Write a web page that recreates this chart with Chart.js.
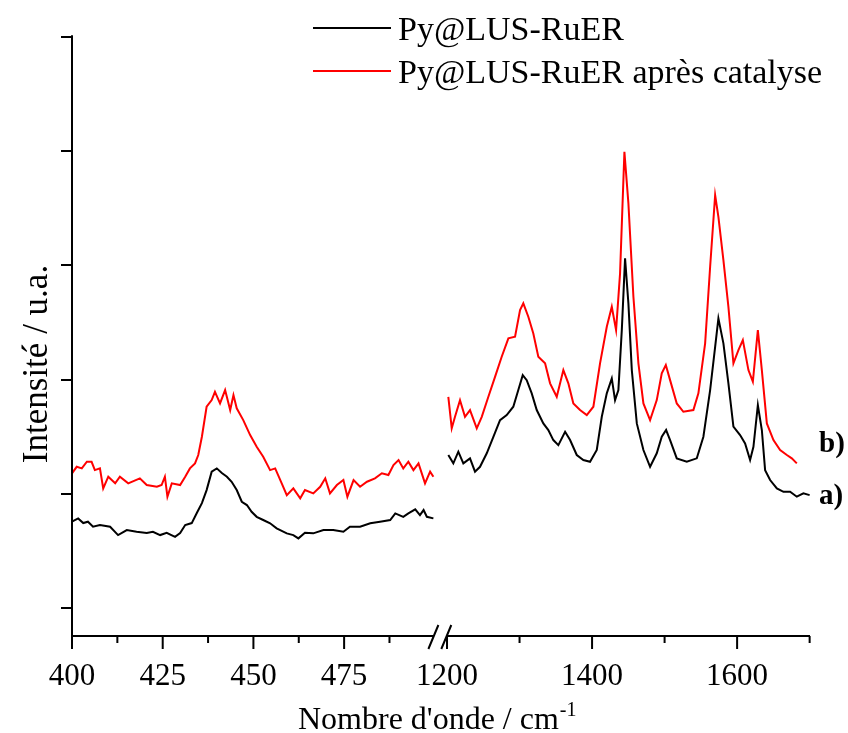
<!DOCTYPE html>
<html>
<head>
<meta charset="utf-8">
<script src="https://cdn.jsdelivr.net/npm/chart.js@4.4.1/dist/chart.umd.min.js"></script>
<style>
  body { margin: 0; background: #fff; }
  #wrap { width: 848px; height: 733px; }
</style>
</head>
<body>
<div id="wrap"><canvas id="raman" width="848" height="733"></canvas></div>
<script>
// a) Py@LUS-RuER, low wavenumber part
const wnLeftA = [400, 401.7, 403.1, 404.4, 405.8, 407.7, 410.5, 412.7, 415.1, 417.8, 420.6, 422.3, 424.3, 426.1, 428.4, 429.8, 431.2, 433.0, 434.4, 435.8, 437.1, 438.5, 439.9, 441.3, 442.7, 444.0, 445.4, 446.8, 448.2, 449.5, 450.9, 452.7, 454.6, 456.4, 459.2, 461.0, 462.4, 464.2, 466.5, 469.3, 472.0, 474.8, 476.6, 479.4, 482.2, 484.9, 487.7, 489.1, 491.3, 492.7, 494.6, 495.9, 496.9, 497.8, 499.6];
const intLeftA = [0.756, 0.785, 0.744, 0.756, 0.712, 0.727, 0.712, 0.639, 0.683, 0.668, 0.657, 0.668, 0.639, 0.659, 0.624, 0.657, 0.727, 0.744, 0.832, 0.919, 1.033, 1.194, 1.223, 1.182, 1.150, 1.106, 1.033, 0.931, 0.902, 0.843, 0.799, 0.771, 0.742, 0.698, 0.654, 0.639, 0.610, 0.659, 0.654, 0.683, 0.683, 0.668, 0.712, 0.712, 0.742, 0.756, 0.771, 0.829, 0.799, 0.829, 0.864, 0.814, 0.858, 0.799, 0.785];

// b) après catalyse, low wavenumber part
const wnLeftB = [400, 401.3, 402.7, 404.1, 405.4, 406.3, 407.7, 408.6, 410.0, 411.9, 413.2, 415.5, 418.7, 420.6, 423.4, 424.7, 425.6, 426.3, 427.5, 429.8, 431.2, 432.5, 433.9, 434.8, 435.8, 437.1, 438.5, 439.4, 440.8, 442.2, 443.6, 444.5, 445.4, 447.2, 449.1, 450.9, 452.7, 454.6, 456.0, 457.8, 459.2, 461.0, 462.9, 464.2, 466.5, 468.4, 469.8, 471.1, 473.0, 474.8, 475.9, 477.6, 479.4, 481.3, 483.5, 485.4, 487.2, 488.6, 490.0, 491.3, 492.7, 494.1, 495.5, 497.3, 498.7, 499.6];
const intLeftB = [1.180, 1.237, 1.223, 1.281, 1.281, 1.208, 1.223, 1.048, 1.150, 1.092, 1.150, 1.092, 1.136, 1.077, 1.062, 1.077, 1.150, 0.975, 1.092, 1.077, 1.150, 1.223, 1.267, 1.340, 1.500, 1.763, 1.821, 1.894, 1.792, 1.909, 1.734, 1.865, 1.749, 1.646, 1.515, 1.413, 1.325, 1.208, 1.223, 1.092, 0.989, 1.048, 0.961, 1.033, 1.004, 1.062, 1.136, 1.004, 1.077, 1.121, 0.975, 1.121, 1.062, 1.106, 1.136, 1.180, 1.165, 1.252, 1.296, 1.223, 1.281, 1.208, 1.267, 1.092, 1.194, 1.150];

// a) high wavenumber part
const wnRightA = [1201.8, 1208.7, 1215.6, 1222.5, 1231.7, 1238.6, 1245.5, 1254.8, 1263.9, 1273.1, 1282.3, 1291.4, 1298.3, 1304.4, 1309.9, 1316.8, 1323.7, 1332.8, 1339.7, 1346.6, 1353.5, 1362.8, 1369.7, 1378.9, 1388.0, 1397.2, 1406.5, 1413.4, 1420.3, 1427.2, 1431.7, 1436.3, 1441.0, 1445.5, 1450.1, 1454.8, 1461.7, 1470.8, 1480.0, 1489.2, 1496.1, 1502.1, 1507.6, 1516.8, 1530.6, 1544.4, 1553.5, 1562.8, 1569.7, 1574.2, 1581.1, 1588.0, 1594.9, 1604.1, 1611.0, 1617.9, 1622.5, 1628.6, 1634.1, 1638.6, 1645.5, 1654.8, 1663.9, 1673.1, 1682.3, 1691.4, 1700];
const intRightA = [1.340, 1.267, 1.369, 1.267, 1.311, 1.194, 1.237, 1.355, 1.500, 1.646, 1.690, 1.763, 1.909, 2.040, 1.996, 1.880, 1.734, 1.617, 1.559, 1.471, 1.427, 1.544, 1.471, 1.340, 1.296, 1.281, 1.384, 1.675, 1.880, 2.011, 1.821, 1.909, 2.434, 3.062, 2.668, 2.084, 1.617, 1.384, 1.237, 1.355, 1.500, 1.559, 1.471, 1.311, 1.281, 1.311, 1.500, 1.909, 2.288, 2.537, 2.318, 1.968, 1.588, 1.515, 1.442, 1.296, 1.412, 1.778, 1.559, 1.208, 1.121, 1.048, 1.018, 1.018, 0.975, 1.004, 0.989];

// b) high wavenumber part
const wnRightB = [1201.8, 1206.5, 1211.0, 1217.9, 1224.8, 1231.7, 1241.0, 1247.9, 1257.0, 1266.2, 1275.4, 1284.6, 1293.8, 1300.7, 1305.2, 1312.1, 1319.0, 1325.9, 1335.2, 1342.1, 1351.3, 1360.4, 1367.3, 1374.2, 1383.4, 1392.7, 1401.8, 1411.0, 1420.3, 1427.2, 1433.1, 1438.6, 1444.6, 1450.1, 1457.0, 1463.9, 1470.8, 1480.0, 1489.2, 1496.1, 1501.7, 1507.6, 1516.8, 1525.9, 1539.7, 1546.6, 1555.9, 1562.8, 1569.7, 1574.2, 1581.1, 1588.0, 1594.9, 1601.8, 1607.9, 1615.6, 1621.7, 1628.6, 1634.1, 1641.0, 1650.1, 1659.3, 1668.6, 1675.4, 1682.3];
const intRightB = [1.850, 1.574, 1.675, 1.821, 1.675, 1.734, 1.574, 1.675, 1.850, 2.025, 2.201, 2.362, 2.376, 2.609, 2.668, 2.551, 2.405, 2.201, 2.143, 1.968, 1.850, 2.084, 1.968, 1.792, 1.734, 1.690, 1.763, 2.143, 2.463, 2.638, 2.434, 2.931, 3.996, 3.544, 2.726, 2.143, 1.792, 1.646, 1.821, 2.055, 2.128, 1.996, 1.792, 1.719, 1.734, 1.880, 2.318, 2.989, 3.616, 3.426, 3.047, 2.638, 2.143, 2.259, 2.347, 2.084, 1.982, 2.434, 2.084, 1.617, 1.471, 1.384, 1.340, 1.311, 1.267];

const seriesNames = ['Py@LUS-RuER', 'Py@LUS-RuER après catalyse'];
const seriesTags = ['a)', 'b)'];
const seriesColors = ['#000000', '#ff0000'];

const leftMajor = [400, 425, 450, 475];
const leftMinor = [412.5, 437.5, 462.5, 487.5];
const rightMajor = [1200, 1400, 1600];
const rightMinor = [1300, 1500, 1700];
const yTicks = [0, 1, 2, 3, 4, 5];

const FONT = '"Liberation Serif", "Times New Roman", serif';

function pts(xs, ys) {
    return xs.map((x, i) => ({ x: x, y: ys[i] }));
}

function line(label, xs, ys, color, axis) {
    return {
        label: label,
        data: pts(xs, ys),
        xAxisID: axis,
        borderColor: color,
        borderWidth: 2,
        pointRadius: 0,
        tension: 0,
        fill: false
    };
}

// axes, ticks, break marks and texts
const decor = {
    id: 'decor',
    afterDraw(chart) {
        const ctx = chart.ctx;
        const a = chart.chartArea;
        const xL = chart.scales.xL, xR = chart.scales.xR, y = chart.scales.y;
        ctx.save();
        ctx.strokeStyle = '#000';
        ctx.fillStyle = '#000';
        ctx.lineWidth = 2;
        ctx.lineCap = 'butt';

        ctx.beginPath();
        // y axis
        ctx.moveTo(a.left, y.getPixelForValue(yTicks[yTicks.length - 1]) - 2);
        ctx.lineTo(a.left, a.bottom + 1);
        yTicks.forEach(v => {
            const py = Math.round(y.getPixelForValue(v));
            ctx.moveTo(a.left - 11, py);
            ctx.lineTo(a.left, py);
        });
        // broken x axis
        const lEnd = xL.getPixelForValue(499.6);
        const rStart = xR.getPixelForValue(1199);
        ctx.moveTo(a.left - 1, a.bottom);
        ctx.lineTo(lEnd, a.bottom);
        ctx.moveTo(rStart, a.bottom);
        ctx.lineTo(a.right, a.bottom);
        leftMajor.forEach(v => { const px = xL.getPixelForValue(v); ctx.moveTo(px, a.bottom); ctx.lineTo(px, a.bottom + 13); });
        leftMinor.forEach(v => { const px = xL.getPixelForValue(v); ctx.moveTo(px, a.bottom); ctx.lineTo(px, a.bottom + 7); });
        rightMajor.forEach(v => { const px = xR.getPixelForValue(v); ctx.moveTo(px, a.bottom); ctx.lineTo(px, a.bottom + 13); });
        rightMinor.forEach(v => { const px = xR.getPixelForValue(v); ctx.moveTo(px, a.bottom); ctx.lineTo(px, a.bottom + 7); });
        // break slashes
        [lEnd, rStart].forEach(px => {
            ctx.moveTo(px - 5, a.bottom + 13);
            ctx.lineTo(px + 5, a.bottom - 11);
        });
        ctx.stroke();

        // tick labels
        ctx.font = '31px ' + FONT;
        ctx.textAlign = 'center';
        ctx.textBaseline = 'alphabetic';
        leftMajor.forEach(v => ctx.fillText(String(v), xL.getPixelForValue(v), a.bottom + 49));
        rightMajor.forEach(v => ctx.fillText(String(v), xR.getPixelForValue(v), a.bottom + 49));

        // x title with superscript
        ctx.textAlign = 'left';
        ctx.font = '32px ' + FONT;
        const xt = "Nombre d'onde / cm";
        ctx.fillText(xt, 298, 729);
        const w = ctx.measureText(xt).width;
        ctx.font = '20px ' + FONT;
        ctx.fillText('-1', 298 + w + 1, 716);

        // y title
        ctx.save();
        ctx.translate(47, 364);
        ctx.rotate(-Math.PI / 2);
        ctx.textAlign = 'center';
        ctx.font = '35px ' + FONT;
        ctx.fillText('Intensité / u.a.', 0, 0);
        ctx.restore();

        // legend
        ctx.font = '34px ' + FONT;
        ctx.textAlign = 'left';
        [28, 71].forEach((ly, i) => {
            ctx.strokeStyle = seriesColors[i];
            ctx.beginPath();
            ctx.moveTo(313, ly);
            ctx.lineTo(391, ly);
            ctx.stroke();
            ctx.fillText(seriesNames[i], 398, ly + 12);
        });

        // curve tags
        ctx.font = 'bold 29px ' + FONT;
        ctx.fillText(seriesTags[1], 819, 452);
        ctx.fillText(seriesTags[0], 819, 504);
        ctx.restore();
    }
};

new Chart(document.getElementById('raman'), {
    type: 'line',
    data: {
        datasets: [
            line(seriesNames[0], wnLeftA, intLeftA, seriesColors[0], 'xL'),
            line(seriesNames[0], wnRightA, intRightA, seriesColors[0], 'xR'),
            line(seriesNames[1], wnLeftB, intLeftB, seriesColors[1], 'xL'),
            line(seriesNames[1], wnRightB, intRightB, seriesColors[1], 'xR')
        ]
    },
    options: {
        responsive: false,
        animation: false,
        layout: { padding: { left: 72, right: 38, top: 36, bottom: 97 } },
        plugins: {
            legend: { display: false },
            tooltip: { enabled: false }
        },
        scales: {
            xL: { type: 'linear', position: 'bottom', stack: 'x', stackWeight: 1, min: 400, max: 501.7, display: false },
            xR: { type: 'linear', position: 'bottom', stack: 'x', stackWeight: 1, min: 1191.7, max: 1700.5, display: false },
            y: { type: 'linear', position: 'left', min: -0.245, max: 5.01, display: false }
        }
    },
    plugins: [decor]
});
</script>
</body>
</html>
